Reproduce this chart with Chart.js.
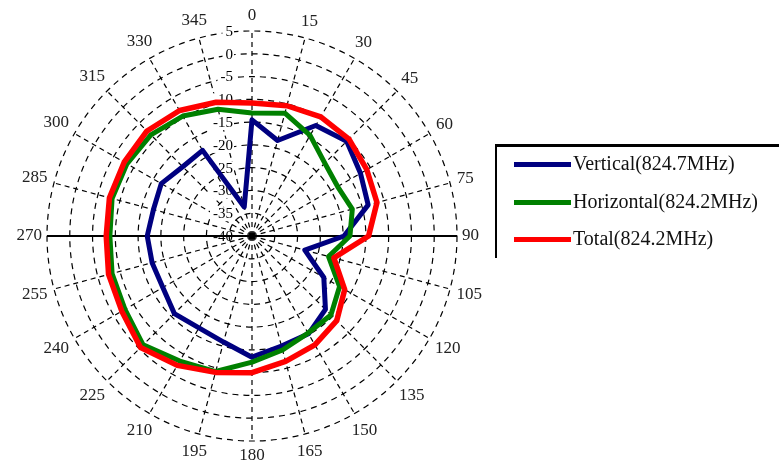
<!DOCTYPE html>
<html>
<head>
<meta charset="utf-8">
<script src="https://cdn.jsdelivr.net/npm/chart.js@4.4.1/dist/chart.umd.min.js"></script>
<style>
  html, body { margin: 0; padding: 0; background: #fff; }
  #wrap { position: relative; width: 779px; height: 473px; overflow: hidden; }
  #chart { position: absolute; left: 0; top: 0; }
  #legend {
    position: absolute; left: 495px; top: 144px; width: 300px; height: 111px;
    border-left: 2px solid #000; border-top: 3px solid #000;
    font-family: "Liberation Serif", serif; font-size: 20px; color: #111;
  }
  .item { position: absolute; left: 17px; height: 24px; line-height: 24px; white-space: nowrap; }
  .swatch { display: inline-block; width: 57px; height: 5px; vertical-align: middle; margin-right: 2px; position: relative; top: -1px; }
</style>
</head>
<body>
<div id="wrap">
  <canvas id="chart" width="779" height="473"></canvas>
  <div id="legend"></div>
</div>
<script>
// angles in degrees, clockwise from the top
var angleLabels = ['0', '15', '30', '45', '60', '75', '90', '105', '120', '135', '150', '165',
                   '180', '195', '210', '225', '240', '255', '270', '285', '300', '315', '330', '345'];

// dB values, one per angle
var verticalDb = [-14.5, -18.3, -12.0, -10.6, -12.5, -13.6, -19.8, -28.0, -21.8, -17.2, -15.2, -15.0,
                  -13.4, -15.9, -16.7, -15.9, -17.4, -17.3, -17.0, -17.6, -17.0, -18.5, -18.3, -33.4];
var horizontalDb = [-13.0, -12.1, -14.5, -17.4, -18.3, -17.2, -18.5, -22.6, -17.8, -15.5, -15.4, -14.1,
                    -12.3, -9.2, -8.3, -6.2, -7.8, -8.2, -8.8, -8.2, -8.3, -8.6, -9.6, -11.2];
var totalDb = [-10.8, -10.4, -9.8, -9.9, -10.9, -11.6, -14.4, -21.4, -16.5, -13.7, -12.4, -11.5,
               -10.0, -9.0, -7.2, -5.4, -7.0, -7.4, -8.0, -7.6, -7.6, -7.4, -8.2, -9.6];

var seriesNames = ['Vertical(824.7MHz)', 'Horizontal(824.2MHz)', 'Total(824.2MHz)'];
var seriesColours = ['#000080', '#008000', '#ff0000'];

var rMin = -40;
var rMax = 5;
var rStep = 5;

// ring values next to the 0 spoke, solid 90-270 axis, angle labels
const polarText = {
  id: 'polarText',
  beforeDatasetsDraw(chart) {
    const s = chart.scales.r;
    const ctx = chart.ctx;
    ctx.save();

    const a = s.getPointPosition(angleLabels.indexOf('90'), s.drawingArea);
    const b = s.getPointPosition(angleLabels.indexOf('270'), s.drawingArea);
    ctx.setLineDash([]);
    ctx.strokeStyle = '#000';
    ctx.lineWidth = 2;
    ctx.beginPath();
    ctx.moveTo(b.x, b.y);
    ctx.lineTo(a.x, a.y);
    ctx.stroke();

    ctx.font = '15px "Liberation Serif", serif';
    ctx.textAlign = 'right';
    ctx.textBaseline = 'middle';
    s.ticks.forEach(t => {
      const txt = String(t.value);
      const y = s.yCenter - s.getDistanceFromCenterForValue(t.value) + 1;
      const w = ctx.measureText(txt).width;
      if (t.value !== rMin) {
        ctx.fillStyle = '#fff';
        ctx.fillRect(s.xCenter - 22 - w, y - 7, w + 4, 14);
      }
      ctx.fillStyle = '#000';
      ctx.fillText(txt, s.xCenter - 19, y);
    });

    ctx.font = '17px "Liberation Serif", serif';
    ctx.textAlign = 'center';
    ctx.fillStyle = '#222';
    chart.data.labels.forEach((lab, i) => {
      const ang = s.getIndexAngle(i);
      const w = ctx.measureText(lab).width;
      const d = s.drawingArea + 5 + Math.abs(Math.sin(ang)) * w / 2 + Math.abs(Math.cos(ang)) * 10;
      const p = s.getPointPosition(i, d);
      ctx.fillText(lab, p.x, p.y);
    });
    ctx.restore();
  }
};

var datasets = [verticalDb, horizontalDb, totalDb].map((vals, i) => ({
  label: seriesNames[i],
  data: vals,
  borderColor: seriesColours[i],
  backgroundColor: seriesColours[i],
  borderWidth: i === 2 ? 5.5 : 5,
  borderJoinStyle: 'round',
  pointRadius: 0,
  fill: false,
  tension: 0,
  order: 3 - i
}));

new Chart(document.getElementById('chart'), {
  type: 'radar',
  data: { labels: angleLabels, datasets: datasets },
  plugins: [polarText],
  options: {
    responsive: false,
    devicePixelRatio: 1,
    animation: false,
    layout: { padding: { left: 47, right: 322, top: 31, bottom: 32 } },
    plugins: { legend: { display: false }, tooltip: { enabled: false } },
    scales: {
      r: {
        min: rMin,
        max: rMax,
        startAngle: 0,
        ticks: { stepSize: rStep, display: false },
        pointLabels: { display: false },
        grid: { circular: true, color: '#000', lineWidth: 1.2 },
        border: { dash: [6, 5] },
        angleLines: { color: '#000', lineWidth: 1.2, borderDash: [5, 4] }
      }
    }
  }
});

// legend box on the right
var legend = document.getElementById('legend');
var rowTops = [4, 42, 79];
seriesNames.forEach((name, i) => {
  var item = document.createElement('div');
  item.className = 'item';
  item.style.top = rowTops[i] + 'px';
  var sw = document.createElement('span');
  sw.className = 'swatch';
  sw.style.background = seriesColours[i];
  item.appendChild(sw);
  item.appendChild(document.createTextNode(name));
  legend.appendChild(item);
});
</script>
</body>
</html>
